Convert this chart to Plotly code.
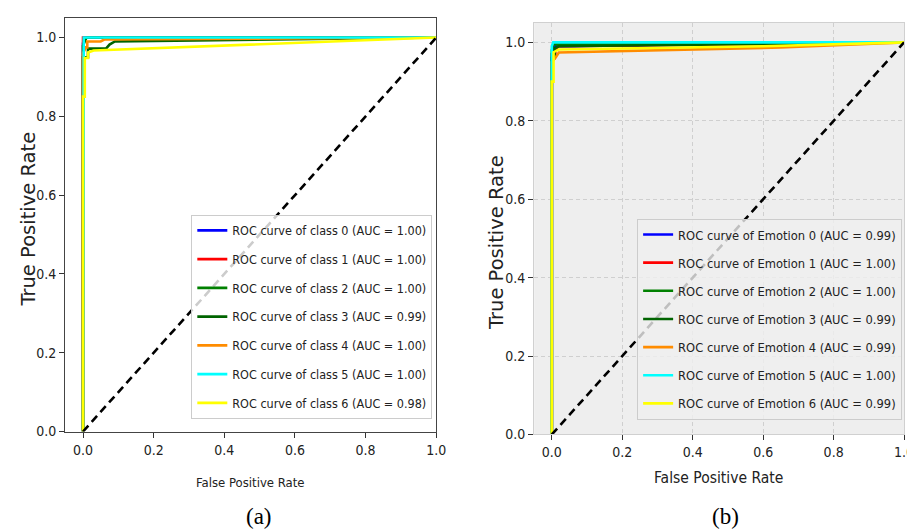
import plotly.graph_objects as go

# ---------------- data ----------------
class_names_a = ["ROC curve of class 0 (AUC = 1.00)", "ROC curve of class 1 (AUC = 1.00)",
                 "ROC curve of class 2 (AUC = 1.00)", "ROC curve of class 3 (AUC = 0.99)",
                 "ROC curve of class 4 (AUC = 1.00)", "ROC curve of class 5 (AUC = 1.00)",
                 "ROC curve of class 6 (AUC = 0.98)"]
class_names_b = ["ROC curve of Emotion 0 (AUC = 0.99)", "ROC curve of Emotion 1 (AUC = 1.00)",
                 "ROC curve of Emotion 2 (AUC = 1.00)", "ROC curve of Emotion 3 (AUC = 0.99)",
                 "ROC curve of Emotion 4 (AUC = 0.99)", "ROC curve of Emotion 5 (AUC = 1.00)",
                 "ROC curve of Emotion 6 (AUC = 0.99)"]
colors = ["blue", "red", "green", "darkgreen", "darkorange", "cyan", "yellow"]

# panel (a)
fpr_a0 = [0.0, 0.0, 0.003, 1.0]
tpr_a0 = [0.0, 0.985, 1.0, 1.0]
fpr_a1 = [0.0, 0.0, 1.0]
tpr_a1 = [0.0, 1.0, 1.0]
fpr_a2 = [0.0, 0.0, 0.01, 1.0]
tpr_a2 = [0.0, 0.98, 1.0, 1.0]
fpr_a3 = [0.0, 0.0, 0.014, 0.014, 0.065, 0.075, 0.09, 1.0]
tpr_a3 = [0.0, 0.95, 0.95, 0.972, 0.972, 0.982, 0.99, 1.0]
fpr_a4 = [0.0, 0.0, 0.008, 0.012, 0.012, 0.05, 0.06, 1.0]
tpr_a4 = [0.0, 0.96, 0.975, 0.975, 0.99, 0.99, 0.995, 1.0]
fpr_a5 = [0.0, 0.0, 0.002, 1.0]
tpr_a5 = [0.0, 0.99, 1.0, 1.0]
fpr_a6 = [0.0, 0.0, 0.005, 0.005, 0.014, 0.014, 0.03, 1.0]
tpr_a6 = [0.0, 0.85, 0.85, 0.948, 0.948, 0.962, 0.967, 1.0]

# panel (b)
fpr_b0 = [0.0, 0.0, 0.005, 0.01, 1.0]
tpr_b0 = [0.0, 0.97, 0.98, 0.99, 1.0]
fpr_b1 = [0.0, 0.0, 0.01, 0.01, 0.02, 1.0]
tpr_b1 = [0.0, 0.97, 0.97, 0.982, 0.99, 1.0]
fpr_b2 = [0.0, 0.0, 0.005, 1.0]
tpr_b2 = [0.0, 0.98, 0.995, 1.0]
fpr_b3 = [0.0, 0.0, 0.008, 0.008, 0.02, 1.0]
tpr_b3 = [0.0, 0.96, 0.96, 0.985, 0.99, 1.0]
fpr_b4 = [0.0, 0.0, 0.01, 0.02, 0.65, 1.0]
tpr_b4 = [0.0, 0.95, 0.96, 0.974, 0.987, 1.0]
fpr_b5 = [0.0, 0.0, 0.004, 1.0]
tpr_b5 = [0.0, 0.99, 1.0, 1.0]
fpr_b6 = [0.0, 0.0, 0.005, 0.005, 0.02, 0.6, 1.0]
tpr_b6 = [0.0, 0.9, 0.9, 0.975, 0.982, 0.99, 1.0]

diag_x = [0.0, 1.0]
diag_y = [0.0, 1.0]
tick_vals = [0.0, 0.2, 0.4, 0.6, 0.8, 1.0]
tick_text = ["0.0", "0.2", "0.4", "0.6", "0.8", "1.0"]

curves_a = [(fpr_a0, tpr_a0), (fpr_a1, tpr_a1), (fpr_a2, tpr_a2), (fpr_a3, tpr_a3),
            (fpr_a4, tpr_a4), (fpr_a5, tpr_a5), (fpr_a6, tpr_a6)]
curves_b = [(fpr_b0, tpr_b0), (fpr_b1, tpr_b1), (fpr_b2, tpr_b2), (fpr_b3, tpr_b3),
            (fpr_b4, tpr_b4), (fpr_b5, tpr_b5), (fpr_b6, tpr_b6)]

NARROW = "DejaVu Sans Condensed, Liberation Sans Narrow, sans-serif"
W, H = 915, 532

fig = go.Figure()
for i, (fx, ty) in enumerate(curves_a):
    fig.add_trace(go.Scatter(x=fx, y=ty, mode="lines", name=class_names_a[i],
                             line=dict(color=colors[i], width=2.6),
                             xaxis="x", yaxis="y", legend="legend", legendgroup="a%d" % i))
fig.add_trace(go.Scatter(x=diag_x, y=diag_y, mode="lines", showlegend=False,
                         line=dict(color="black", width=2.6, dash="8px,5px"),
                         xaxis="x", yaxis="y"))
for i, (fx, ty) in enumerate(curves_b):
    fig.add_trace(go.Scatter(x=fx, y=ty, mode="lines", name=class_names_b[i],
                             line=dict(color=colors[i], width=2.6),
                             xaxis="x2", yaxis="y2", legend="legend2", legendgroup="b%d" % i))
fig.add_trace(go.Scatter(x=diag_x, y=diag_y, mode="lines", showlegend=False,
                         line=dict(color="black", width=2.6, dash="8px,5px"),
                         xaxis="x2", yaxis="y2"))

def px_x(p):
    return p / W

def px_y(p):
    return 1 - p / H

axis_common = dict(range=[-0.05, 1.0], tickvals=tick_vals, ticktext=tick_text,
                   ticks="outside", ticklen=5, tickwidth=1.2, tickcolor="#333",
                   tickfont=dict(family=NARROW, size=14, color="#222"),
                   showline=True, mirror=True, zeroline=False)
yaxis_common = dict(axis_common)
yaxis_common["range"] = [0.0, 1.05]

fig.update_layout(
    width=W, height=H,
    margin=dict(l=0, r=0, t=0, b=0),
    paper_bgcolor="white", plot_bgcolor="rgba(0,0,0,0)",
    xaxis=dict(axis_common, domain=[px_x(58), px_x(433)], anchor="y",
               showgrid=False, linecolor="#444", linewidth=1.4),
    yaxis=dict(yaxis_common, domain=[px_y(430), px_y(10)], anchor="x",
               showgrid=False, linecolor="#444", linewidth=1.4),
    xaxis2=dict(axis_common, domain=[px_x(532), px_x(906)], anchor="y2",
                showgrid=True, gridcolor="#cfcfcf", griddash="4px,3px", gridwidth=1,
                linecolor="#d0d0d0", linewidth=1),
    yaxis2=dict(yaxis_common, domain=[px_y(433), px_y(15)], anchor="x2",
                showgrid=True, gridcolor="#cfcfcf", griddash="4px,3px", gridwidth=1,
                linecolor="#d0d0d0", linewidth=1),
    legend=dict(x=px_x(429), y=px_y(417), xanchor="right", yanchor="bottom",
                bgcolor="rgba(255,255,255,0.8)", bordercolor="#cccccc", borderwidth=1,
                font=dict(family=NARROW, size=12.5, color="#222"),
                tracegroupgap=9.5, itemwidth=30),
    legend2=dict(x=px_x(904), y=px_y(418), xanchor="right", yanchor="bottom",
                 bgcolor="rgba(239,239,239,0.8)", bordercolor="#cccccc", borderwidth=1,
                 font=dict(family=NARROW, size=12.8, color="#222"),
                 tracegroupgap=8.5, itemwidth=30),
    shapes=[dict(type="rect", xref="x2 domain", yref="y2 domain", x0=0, x1=1, y0=0, y1=1,
                 fillcolor="#eeeeee", line=dict(width=0), layer="below")],
    annotations=[
        dict(text="False Positive Rate", x=px_x(245), y=px_y(482), xref="paper", yref="paper",
             showarrow=False, xanchor="center", yanchor="middle",
             font=dict(family=NARROW, size=13, color="#222")),
        dict(text="False Positive Rate", x=px_x(718), y=px_y(477), xref="paper", yref="paper",
             showarrow=False, xanchor="center", yanchor="middle",
             font=dict(family=NARROW, size=15.5, color="#222")),
        dict(text="True Positive Rate", x=px_x(21), y=px_y(214), xref="paper", yref="paper",
             showarrow=False, xanchor="center", yanchor="middle", textangle=-90,
             font=dict(family="DejaVu Sans", size=19.5, color="#222")),
        dict(text="True Positive Rate", x=px_x(494), y=px_y(238), xref="paper", yref="paper",
             showarrow=False, xanchor="center", yanchor="middle", textangle=-90,
             font=dict(family="DejaVu Sans", size=19.5, color="#222")),
        dict(text="(a)", x=px_x(254), y=px_y(516), xref="paper", yref="paper",
             showarrow=False, xanchor="center", yanchor="middle",
             font=dict(family="Liberation Serif, DejaVu Serif, serif", size=23, color="black")),
        dict(text="(b)", x=px_x(725), y=px_y(516), xref="paper", yref="paper",
             showarrow=False, xanchor="center", yanchor="middle",
             font=dict(family="Liberation Serif, DejaVu Serif, serif", size=23, color="black")),
    ],
)

fig.write_html("out.html")
